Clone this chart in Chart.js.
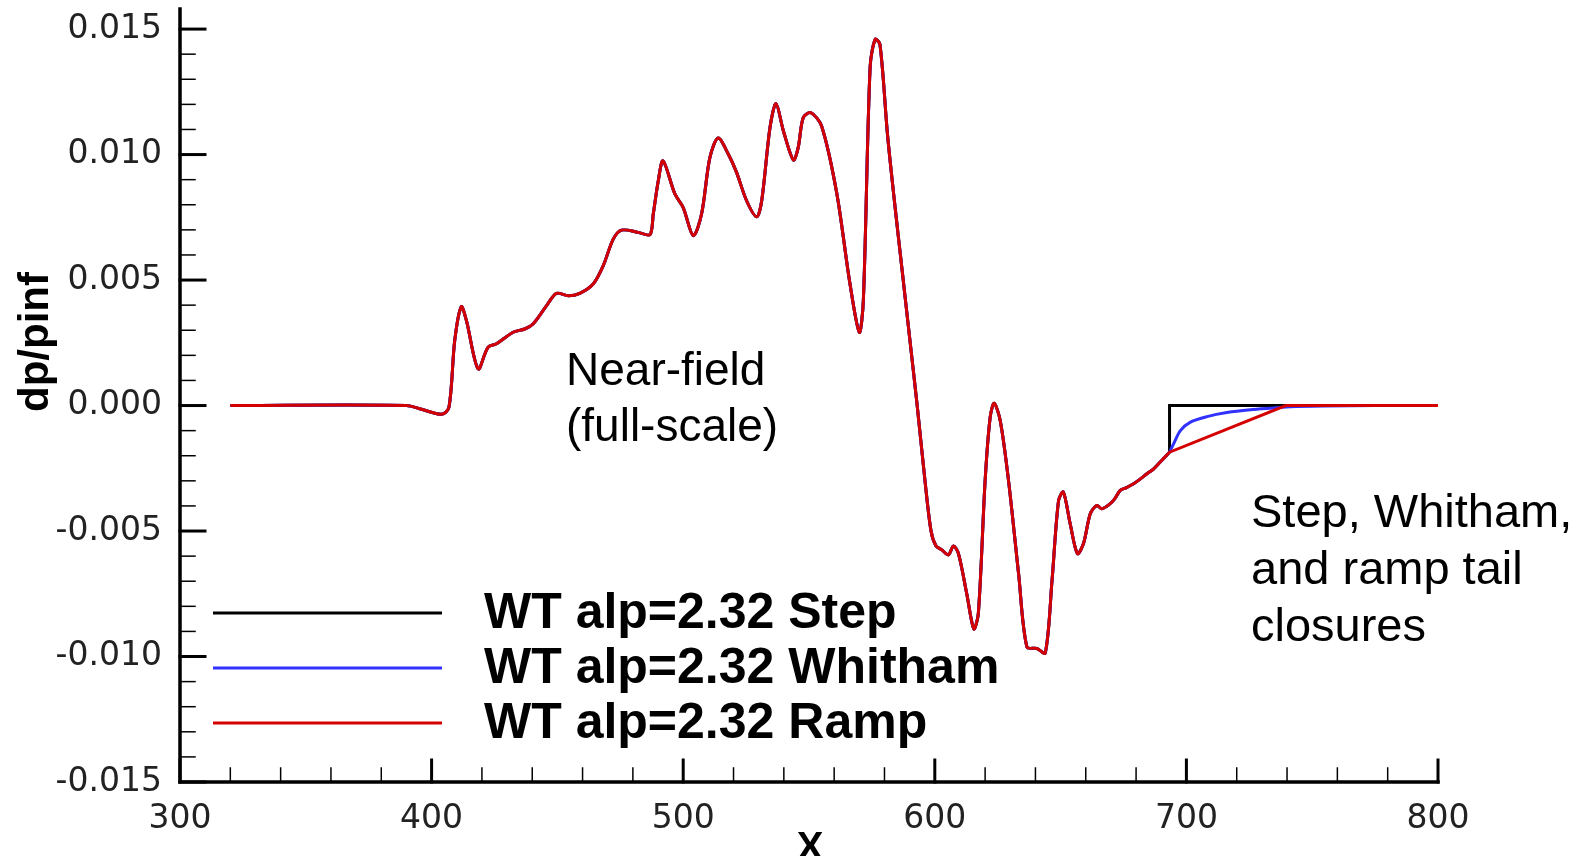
<!DOCTYPE html>
<html>
<head>
<meta charset="utf-8">
<title>dp/pinf near-field</title>
<script src="https://cdn.jsdelivr.net/npm/chart.js@4.4.1/dist/chart.umd.min.js"></script>
<style>
    html, body { margin: 0; padding: 0; background: #fff; }
    #wrap { width: 1587px; height: 856px; }
</style>
</head>
<body>
<div id="wrap"><canvas id="pressureChart" width="1587" height="856"></canvas></div>
<script>
"use strict";

// near-field signature (same for all three runs up to the tail)
const nearX = [320, 390, 396, 404, 406.9, 409.2, 411.8, 413.8, 418.5, 422.4, 425.8, 432.4, 437.0, 440.3,
    445.7, 449.6, 454.3, 458.9, 464.2, 468.2, 472.2, 475.5, 482.1, 486.8, 488.1, 490.1, 492.0, 496.7,
    500.0, 504.0, 507.3, 510.6, 513.9, 517.9, 521.2, 525.2, 529.2, 531.2, 534.5, 536.9, 539.8, 543.8,
    545.7, 547.7, 550.7, 555.0, 561.0, 566.3, 570.0, 571.6, 574.3, 576.3, 578.2, 581.2, 584.0, 587.0,
    590.0, 593.0, 596.0, 598.5, 600.5, 602.8, 605.4, 607.4, 609.4, 612.7, 615.5, 617.3, 620.0, 622.0,
    623.6, 626.0, 629.3, 633.3, 636.6, 640.6, 643.9, 646.6, 649.2, 651.1, 653.8, 656.7, 659.1, 661.8,
    664.4, 666.4, 669.7, 671.5, 673.7, 676.0, 679.0, 681.5, 684.3, 687.0, 689.6, 693.3];
const nearY = [0, 0, -0.00015, -0.00035, -0.00007, 0.0026, 0.00394, 0.0034, 0.00146, 0.00232, 0.00246,
    0.00292, 0.00305, 0.00325, 0.00398, 0.00447, 0.00437, 0.00447, 0.00484, 0.00557, 0.00663, 0.00699,
    0.0069, 0.00681, 0.00763, 0.00896, 0.00975, 0.00843, 0.00789, 0.00677, 0.00763, 0.00988, 0.01066,
    0.01002, 0.00929, 0.00816, 0.00752, 0.00816, 0.01108, 0.01203, 0.01095, 0.00978, 0.01028, 0.01147,
    0.01167, 0.01114, 0.00848, 0.00484, 0.00292, 0.00418, 0.0135, 0.01459, 0.01439, 0.0108, 0.0081,
    0.0054, 0.0027, 0.0000, -0.0029, -0.0050, -0.0056, -0.00575, -0.00595, -0.0056, -0.0059, -0.0075,
    -0.0089, -0.00829, -0.00299, -0.00047, 0.00009, -0.0006, -0.00299, -0.0067, -0.00962, -0.00968,
    -0.00986, -0.00696, -0.00378, -0.00345, -0.00471, -0.0059, -0.0055, -0.00431, -0.00398, -0.00411,
    -0.00391, -0.00372, -0.00338, -0.00328, -0.00312, -0.00294, -0.00272, -0.00252, -0.00225, -0.00186];

// tail closures (corner points repeated so the bends stay sharp)
const stepTailX = [693.3, 693.3, 693.3, 800];
const stepTailY = [-0.00186, 0, 0, 0];
const whithamTailX = [693.3, 694.9, 697.6, 701.6, 708.2, 716.1, 725.4, 734.7, 741.3, 755, 775, 800];
const whithamTailY = [-0.00186, -0.00153, -0.001, -0.00066, -0.00044, -0.00028, -0.00017, -0.0001,
    -0.00005, -0.00002, 0, 0];
const rampTailX = [693.3, 739.5, 739.5, 800];
const rampTailY = [-0.00186, 0, 0, 0];

const seriesLabels = ["WT alp=2.32 Step", "WT alp=2.32 Whitham", "WT alp=2.32 Ramp"];
const seriesColors = ["#000000", "#3030ff", "#d40000"];

const xTickValues = [300, 400, 500, 600, 700, 800];
const yTickValues = [-0.015, -0.010, -0.005, 0.000, 0.005, 0.010, 0.015];

const xTitle = "X";
const yTitle = "dp/pinf";
const nearNote = ["Near-field", "(full-scale)"];
const tailNote = ["Step, Whitham,", "and ramp tail", "closures"];

function toPoints(xs, ys) {
    return xs.map((x, i) => ({x: x, y: ys[i]}));
}

let stepData = toPoints(nearX, nearY).concat(toPoints(stepTailX, stepTailY));
let whithamData = toPoints(nearX, nearY).concat(toPoints(whithamTailX, whithamTailY));
let rampData = toPoints(nearX, nearY).concat(toPoints(rampTailX, rampTailY));

// axis lines, inward ticks, legend and notes
const decor = {
    id: "decor",
    afterDraw(chart) {
        const {ctx, chartArea, scales} = chart;
        const x = scales.x;
        const y = scales.y;
        ctx.save();
        ctx.strokeStyle = "#000";
        ctx.lineCap = "square";

        // x ticks every 20
        for (let v = 300; v <= 800; v += 20) {
            let major = v % 100 === 0;
            let px = x.getPixelForValue(v);
            ctx.lineWidth = major ? 3 : 1.5;
            ctx.beginPath();
            ctx.moveTo(px, chartArea.bottom);
            ctx.lineTo(px, chartArea.bottom - (major ? 22 : 14));
            ctx.stroke();
        }
        // y ticks every 0.001
        for (let k = -15; k <= 15; k++) {
            let major = k % 5 === 0;
            let py = y.getPixelForValue(k / 1000);
            ctx.lineWidth = major ? 3 : 1.5;
            ctx.beginPath();
            ctx.moveTo(chartArea.left, py);
            ctx.lineTo(chartArea.left + (major ? 25 : 15), py);
            ctx.stroke();
        }

        ctx.lineWidth = 3.5;
        ctx.beginPath();
        ctx.moveTo(chartArea.left, chartArea.top);
        ctx.lineTo(chartArea.left, chartArea.bottom);
        ctx.lineTo(chartArea.right, chartArea.bottom);
        ctx.stroke();

        // legend
        ctx.lineCap = "butt";
        ctx.font = "bold 50px 'Liberation Sans', Arial, sans-serif";
        ctx.textBaseline = "middle";
        ctx.fillStyle = "#000";
        chart.data.datasets.forEach((ds, i) => {
            let ly = 613 + i * 55;
            ctx.strokeStyle = ds.borderColor;
            ctx.lineWidth = 3;
            ctx.beginPath();
            ctx.moveTo(213, ly);
            ctx.lineTo(442, ly);
            ctx.stroke();
            ctx.fillText(ds.label, 484, ly + 1);
        });

        // notes
        ctx.textBaseline = "alphabetic";
        ctx.font = "46px 'Liberation Sans', Arial, sans-serif";
        nearNote.forEach((t, i) => ctx.fillText(t, 566, 385 + i * 56));
        ctx.font = "47px 'Liberation Sans', Arial, sans-serif";
        tailNote.forEach((t, i) => ctx.fillText(t, 1251, 527 + i * 57));

        // axis titles
        ctx.font = "bold 40px 'Liberation Sans', Arial, sans-serif";
        ctx.textAlign = "center";
        ctx.fillText(xTitle, 810, 860);
        ctx.save();
        ctx.translate(48, 342);
        ctx.rotate(-Math.PI / 2);
        ctx.font = "bold 42px 'Liberation Sans', Arial, sans-serif";
        ctx.fillText(yTitle, 0, 0);
        ctx.restore();

        ctx.restore();
    }
};

const tickFont = {family: "'DejaVu Sans', sans-serif", size: 33};

new Chart(document.getElementById("pressureChart"), {
    type: "scatter",
    data: {
        datasets: [
            {label: seriesLabels[0], data: stepData, borderColor: seriesColors[0], order: 2},
            {label: seriesLabels[1], data: whithamData, borderColor: seriesColors[1], order: 1},
            {label: seriesLabels[2], data: rampData, borderColor: seriesColors[2], order: 0}
        ].map(ds => Object.assign(ds, {
            showLine: true,
            pointRadius: 0,
            borderWidth: 3,
            tension: 0.3,
            fill: false
        }))
    },
    options: {
        responsive: false,
        devicePixelRatio: 1,
        animation: false,
        layout: {padding: {top: 9, right: 149, left: 0, bottom: 0}},
        plugins: {
            legend: {display: false},
            tooltip: {enabled: false}
        },
        scales: {
            x: {
                type: "linear",
                min: 300,
                max: 800,
                afterFit: s => { s.height = 74; s.paddingLeft = 0; s.paddingRight = 0; },
                afterBuildTicks: s => { s.ticks = xTickValues.map(v => ({value: v})); },
                grid: {display: false, drawTicks: false},
                border: {display: false},
                ticks: {
                    color: "#222",
                    font: tickFont,
                    padding: 18,
                    maxRotation: 0,
                    autoSkip: false,
                    callback: v => String(v)
                }
            },
            y: {
                type: "linear",
                min: -0.015,
                max: 0.0158,
                afterFit: s => { s.width = 180; s.paddingTop = 0; s.paddingBottom = 0; },
                afterBuildTicks: s => { s.ticks = yTickValues.map(v => ({value: v})); },
                grid: {display: false, drawTicks: false},
                border: {display: false},
                ticks: {
                    color: "#222",
                    font: tickFont,
                    padding: 18,
                    autoSkip: false,
                    callback: v => v.toFixed(3)
                }
            }
        }
    },
    plugins: [decor]
});
</script>
</body>
</html>
